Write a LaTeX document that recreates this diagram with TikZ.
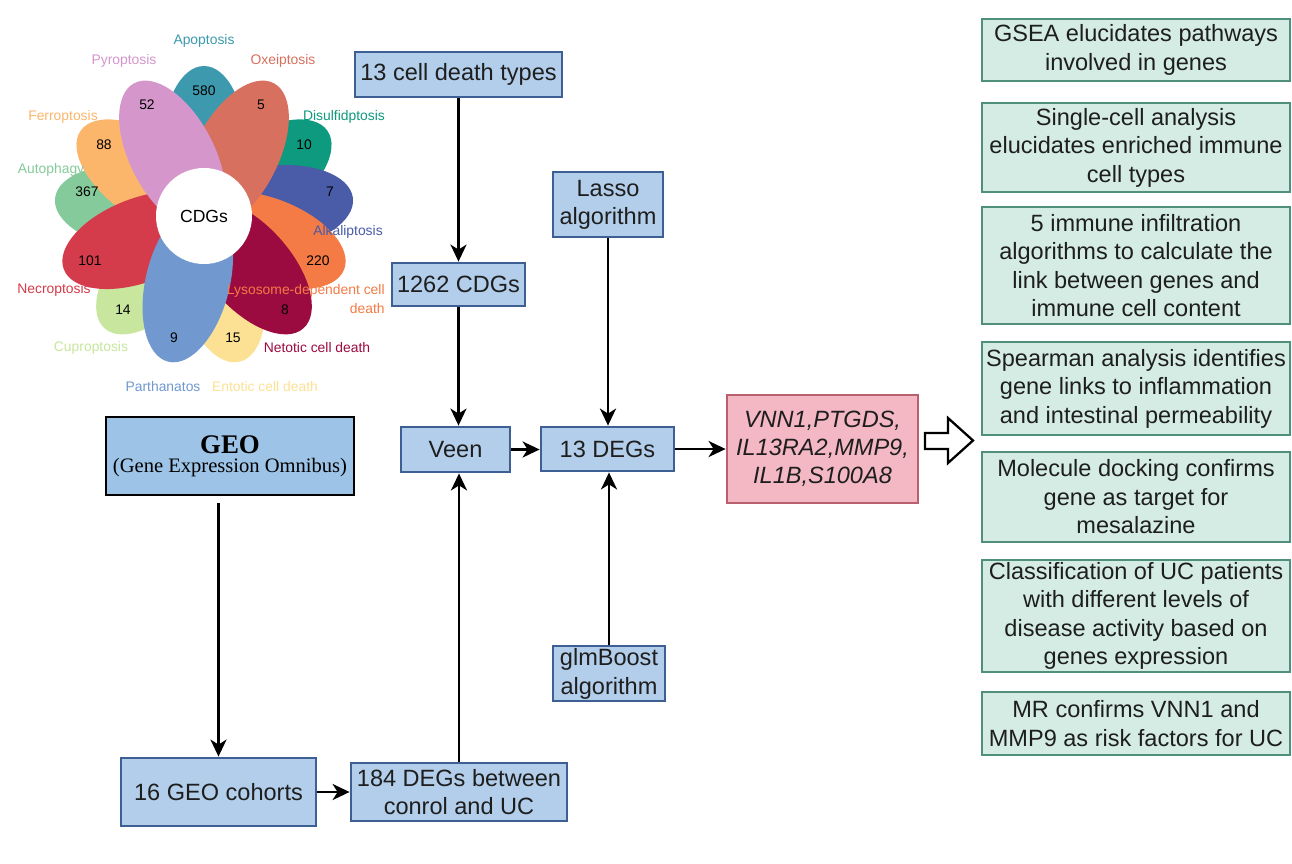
\documentclass[tikz,border=0pt]{standalone}
\usepackage{fontspec}
\setmainfont{Liberation Sans}
\newfontfamily\geoserif{Liberation Serif}
\usetikzlibrary{arrows.meta}
\definecolor{boxblue}{HTML}{3D5F94}
\definecolor{fillblue}{HTML}{B2CEEA}
\definecolor{geofill}{HTML}{9DC3E6}
\definecolor{greenbd}{HTML}{4F8F7C}
\definecolor{greenfill}{HTML}{D4ECE4}
\definecolor{pinkbd}{HTML}{B8606E}
\definecolor{pinkfill}{HTML}{F4B8C4}
\definecolor{txt}{HTML}{1E1E1E}
\definecolor{capo}{HTML}{3D9AAE}
\definecolor{coxe}{HTML}{D7705F}
\definecolor{cpyr}{HTML}{D596CC}
\definecolor{cdis}{HTML}{0E9A7E}
\definecolor{calk}{HTML}{4A5BA8}
\definecolor{clys}{HTML}{F47B45}
\definecolor{cnet}{HTML}{9C0B40}
\definecolor{cent}{HTML}{FCE195}
\definecolor{cpar}{HTML}{7199CF}
\definecolor{ccup}{HTML}{C8E69D}
\definecolor{cnec}{HTML}{D53C4B}
\definecolor{caut}{HTML}{85CA9B}
\definecolor{cfer}{HTML}{FBB66B}
\begin{document}
\begin{tikzpicture}[x=0.02cm,y=-0.02cm,
  bluebox/.style={draw=boxblue, fill=fillblue, line width=1.6pt, inner sep=0pt, align=center,
    text=txt, font=\fontsize{13.4}{16}\selectfont},
  greenbox/.style={draw=greenbd, fill=greenfill, line width=1.6pt, inner sep=0pt, align=center,
    text=txt, font=\fontsize{13.4}{16.2}\selectfont, minimum width=6.16cm},
  arr/.style={-{Stealth[length=0.34cm,width=0.32cm,inset=0.1cm]}, line width=1.5pt, black},
  lab/.style={inner sep=0pt, font=\fontsize{7.9}{10.8}\selectfont},
  num/.style={inner sep=0pt, text=black, font=\fontsize{7.9}{9.5}\selectfont},
  petal/.style={x radius=82, y radius=42}
]
\useasboundingbox (0,0) rectangle (1292,863);
\fill[white] (0,0) rectangle (1292,863);

% ---------- flower ----------
\begin{scope}[shift={(204,216)}]
  \fill[caut, rotate=173.1] (68,0) ellipse [petal];
  \fill[cfer, rotate=145.4] (68,0) ellipse [petal];
  \fill[capo, rotate=90] (68,0) ellipse [petal];
  \fill[cdis, rotate=34.6] (68,0) ellipse [petal];
  \fill[calk, rotate=6.9] (68,0) ellipse [petal];
  \fill[cent, rotate=-76.2] (68,0) ellipse [petal];
  \fill[ccup, rotate=-131.5] (68,0) ellipse [petal];
  \fill[cnec, rotate=-159.2] (68,0) ellipse [petal];
  \fill[clys, rotate=-20.8] (68,0) ellipse [petal];
  \fill[cnet, rotate=-48.5] (68,0) ellipse [petal];
  \fill[cpar, rotate=-103.8] (68,0) ellipse [petal];
  \fill[coxe, rotate=62.3] (68,0) ellipse [petal];
  \fill[cpyr, rotate=117.7] (68,0) ellipse [petal];
  \fill[white] (0,0) circle [radius=48];
\end{scope}
\node[inner sep=0pt, text=black, font=\fontsize{10}{12}\selectfont] (cdgs) at (204,216) {CDGs};

\node[num] (n580) at (204,91) {580};
\node[num] (n52) at (147,105) {52};
\node[num] (n5) at (261,105) {5};
\node[num] (n88) at (104,145) {88};
\node[num] (n10) at (304,145) {10};
\node[num] (n367) at (87,192) {367};
\node[num] (n7) at (330,192) {7};
\node[num] (n101) at (90,261) {101};
\node[num] (n220) at (318,261) {220};
\node[num] (n14) at (123,310) {14};
\node[num] (n8) at (285,310) {8};
\node[num] (n9) at (174,338) {9};
\node[num] (n15) at (233,338) {15};

\node[lab, text=capo] (lapo) at (204,41) {Apoptosis};
\node[lab, text=cpyr] (lpyr) at (124,61) {Pyroptosis};
\node[lab, text=coxe] (loxe) at (283,61) {Oxeiptosis};
\node[lab, text=cfer] (lfer) at (63,117) {Ferroptosis};
\node[lab, text=cdis] (ldis) at (344,117) {Disulfidptosis};
\node[lab, text=caut] (laut) at (51,170) {Autophagy};
\node[lab, text=calk] (lalk) at (348,232) {Alkaliptosis};
\node[lab, text=cnec] (lnec) at (54,290) {Necroptosis};
\node[lab, text=clys, align=right, anchor=east] (llys) at (385,299.5) {Lysosome-dependent cell\\death};
\node[lab, text=cnet] (lnet) at (317,348) {Netotic cell death};
\node[lab, text=ccup] (lcup) at (91,348) {Cuproptosis};
\node[lab, text=cpar] (lpar) at (163,387) {Parthanatos};
\node[lab, text=cent] (lent) at (265,387) {Entotic cell death};

% ---------- flow boxes ----------
\node[bluebox, minimum width=4.14cm, minimum height=0.9cm] (cdt) at (458.5,74.5) {13 cell death types};
\node[bluebox, minimum width=2.66cm, minimum height=0.86cm] (cdg) at (458.5,284.5) {1262 CDGs};
\node[bluebox, minimum width=2.2cm, minimum height=1.3cm] (lasso) at (608,204.5) {Lasso\\algorithm};
\node[bluebox, minimum width=2.18cm, minimum height=0.9cm] (veen) at (455.5,449.5) {Veen};
\node[bluebox, minimum width=2.66cm, minimum height=0.88cm] (deg) at (607.5,449) {13 DEGs};
\node[bluebox, line width=1pt, minimum width=2.24cm, minimum height=1.1cm,
      font=\fontsize{13.4}{16.4}\selectfont] (glm) at (609,673.5) {glmBoost\\algorithm};
\node[draw=pinkbd, fill=pinkfill, line width=1.6pt, inner sep=0pt, align=center, text=txt,
      font=\fontsize{13.4}{15.9}\selectfont\itshape, minimum width=3.82cm, minimum height=2.16cm]
      (genes) at (822.5,449) {VNN1,PTGDS,\\IL13RA2,MMP9,\\IL1B,S100A8};
\node[draw=black, fill=geofill, line width=1pt, inner sep=0pt, align=center, text=black,
      font=\geoserif, minimum width=4.96cm, minimum height=1.56cm] (geo) at (230,456)
      {{\fontsize{15.3}{17}\selectfont\bfseries GEO}\\[-1pt]{\fontsize{11.7}{14}\selectfont (Gene Expression Omnibus)}};
\node[bluebox, minimum width=3.9cm, minimum height=1.36cm] (geo16) at (218.5,792) {16 GEO cohorts};
\node[bluebox, minimum width=4.32cm, minimum height=1.16cm, font=\fontsize{13.4}{15.6}\selectfont]
      (deg184) at (459,792) {184 DEGs between\\conrol and UC};

% ---------- connectors ----------
\draw[arr] (cdt.south) -- (cdg.north);
\draw[arr] (cdg.south) -- (cdg.south |- veen.north);
\draw[arr] (deg184.north) -- (deg184.north |- veen.south);
\draw[arr] (lasso.south) -- (lasso.south |- deg.north);
\draw[arr] (glm.north) -- (glm.north |- deg.south);
\draw[arr] (veen.east) -- (veen.east -| deg.west);
\draw[arr] (deg.east) -- (deg.east -| genes.west);
\draw[arr, shorten <=0.14cm] (geo16.north |- geo.south) -- (geo16.north);
\draw[arr] (geo16.east) -- (geo16.east -| deg184.west);

% hollow arrow
\draw[line width=1.3pt, fill=white, line join=miter]
  (925,433) -- (948,433) -- (948,418) -- (973,440.5) -- (948,463) -- (948,449) -- (925,449) -- cycle;

% ---------- right column ----------
\node[greenbox, minimum height=1.24cm] (r1) at (1136,50) {GSEA elucidates pathways\\involved in genes};
\node[greenbox, minimum height=1.78cm] (r2) at (1136,147.5) {Single-cell analysis\\elucidates enriched immune\\cell types};
\node[greenbox, minimum height=2.34cm] (r3) at (1136,265.5) {5 immune infiltration\\algorithms to calculate the\\link between genes and\\immune cell content};
\node[greenbox, minimum height=1.86cm] (r4) at (1136,388.5) {Spearman analysis identifies\\gene links to inflammation\\and intestinal permeability};
\node[greenbox, minimum height=1.8cm] (r5) at (1136,497) {Molecule docking confirms\\gene as target for\\mesalazine};
\node[greenbox, minimum height=2.24cm] (r6) at (1136,616) {Classification of UC patients\\with different levels of\\disease activity based on\\genes expression};
\node[greenbox, minimum height=1.26cm] (r7) at (1136,723.5) {MR confirms VNN1 and\\MMP9 as risk factors for UC};
\end{tikzpicture}
\end{document}
